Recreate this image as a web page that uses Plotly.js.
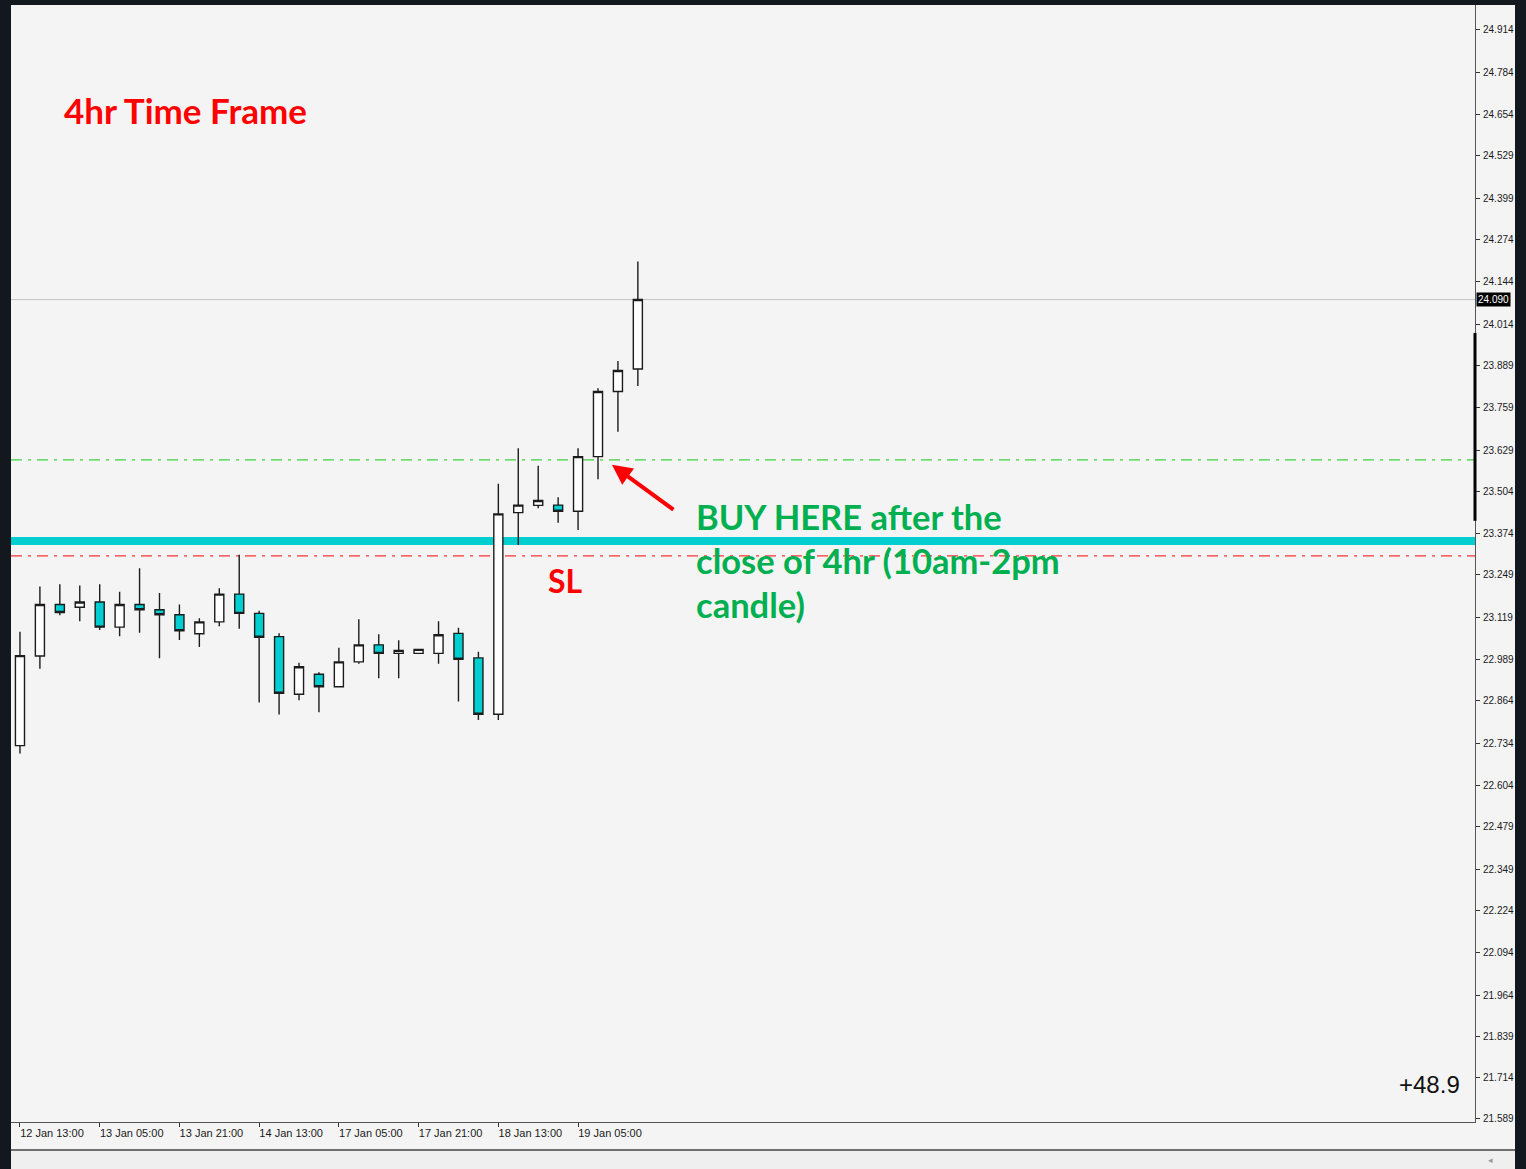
<!DOCTYPE html>
<html>
<head>
<meta charset="utf-8">
<script src="https://cdn.plot.ly/plotly-3.0.1.min.js"></script>
<style>
  html, body { margin: 0; padding: 0; background: #13171e; width: 1526px; height: 1169px; overflow: hidden; }
  #chart { position: absolute; left: 11px; top: 5px; width: 1504px; height: 1164px; overflow: hidden; }
</style>
</head>
<body>
<div id="chart"></div>
<script>
// ---- data (4h candles) ----
const times = [
  "12 Jan 13:00","12 Jan 17:00","12 Jan 21:00","13 Jan 01:00","13 Jan 05:00","13 Jan 09:00",
  "13 Jan 13:00","13 Jan 17:00","13 Jan 21:00","14 Jan 01:00","14 Jan 05:00","14 Jan 09:00",
  "14 Jan 13:00","14 Jan 17:00","14 Jan 21:00","17 Jan 01:00","17 Jan 05:00","17 Jan 09:00",
  "17 Jan 13:00","17 Jan 17:00","17 Jan 21:00","18 Jan 01:00","18 Jan 05:00","18 Jan 09:00",
  "18 Jan 13:00","18 Jan 17:00","18 Jan 21:00","19 Jan 01:00","19 Jan 05:00","19 Jan 09:00",
  "19 Jan 13:00","19 Jan 17:00"
];
const openP  = [22.727,23.001,23.158,23.150,23.166,23.089,23.158,23.142,23.127,23.069,23.105,23.190,
                23.131,23.060,22.884,22.945,22.907,22.983,23.035,23.009,23.009,23.009,23.070,22.995,
                22.823,23.439,23.461,23.462,23.443,23.610,23.809,23.878];
const highP  = [23.075,23.213,23.220,23.216,23.220,23.197,23.269,23.193,23.158,23.116,23.208,23.310,
                23.139,23.070,22.980,22.951,23.026,23.113,23.067,23.049,23.021,23.107,23.087,23.014,
                23.527,23.636,23.582,23.486,23.636,23.819,23.902,24.206];
const lowP   = [22.703,22.962,23.125,23.107,23.080,23.061,23.072,22.994,23.050,23.028,23.092,23.084,
                22.859,22.822,22.866,22.829,22.905,22.977,22.933,22.933,23.009,22.977,22.862,22.805,
                22.805,23.340,23.452,23.408,23.386,23.541,23.686,23.826];
const closeP = [23.002,23.158,23.134,23.166,23.089,23.158,23.142,23.127,23.078,23.105,23.190,23.131,
                23.058,22.887,22.968,22.907,22.983,23.035,23.009,23.018,23.021,23.066,22.991,22.823,
                23.435,23.462,23.476,23.443,23.610,23.809,23.873,24.090];

const xTickVals = ["12 Jan 13:00","13 Jan 05:00","13 Jan 21:00","14 Jan 13:00",
                   "17 Jan 05:00","17 Jan 21:00","18 Jan 13:00","19 Jan 05:00"];
const yTickVals = [24.914,24.784,24.654,24.529,24.399,24.274,24.144,24.014,23.889,23.759,23.629,
                   23.504,23.374,23.249,23.119,22.989,22.864,22.734,22.604,22.479,22.349,22.224,
                   22.094,21.964,21.839,21.714,21.589];
const yTickText = yTickVals.map(v => v.toFixed(3));

const bidPrice = 24.090;      // current price line
const entryLevel = 23.600;    // green dash-dot
const supportLevel = 23.352;  // cyan thick line
const stopLevel = 23.307;     // red dash-dot (SL)
const arrowTip = {x: 29.70, y: 23.585};

const trace = {
  type: 'candlestick',
  x: times, open: openP, high: highP, low: lowP, close: closeP,
  increasing: {line: {color: '#1c1c1c', width: 1.4}, fillcolor: '#ffffff'},
  decreasing: {line: {color: '#1c1c1c', width: 1.4}, fillcolor: '#00ced1'},
  whiskerwidth: 0,
  hoverinfo: 'skip',
  showlegend: false
};

const hline = (y, color, width, dash) => ({
  type: 'line', xref: 'paper', x0: 0, x1: 1, yref: 'y', y0: y, y1: y,
  line: {color: color, width: width, dash: dash || 'solid'}, layer: 'below'
});

const greenFont = {family: 'Lato, Open Sans, sans-serif', size: 34.5, color: '#00b050'};
const greenX = (694 - 11) / 1464;

const layout = {
  width: 1504, height: 1164,
  margin: {l: 0, r: 40, t: 0, b: 47, pad: 0},
  paper_bgcolor: '#f4f4f4',
  plot_bgcolor: '#f4f4f4',
  boxgap: 0.35,
  showlegend: false,
  xaxis: {
    type: 'category',
    range: [-0.45, 73.0],
    rangeslider: {visible: false},
    showgrid: false, zeroline: false,
    showline: true, linecolor: '#555', linewidth: 1,
    ticks: 'outside', ticklen: 4, tickcolor: '#333', tickwidth: 1,
    tickmode: 'array', tickvals: xTickVals, ticktext: xTickVals,
    ticklabelshift: 32, ticklabelstandoff: -3,
    tickangle: 0,
    tickfont: {family: 'Liberation Sans, Arial, sans-serif', size: 11, color: '#1a1a1a'},
    fixedrange: true
  },
  yaxis: {
    side: 'right',
    range: [21.577, 24.990],
    showgrid: false, zeroline: false,
    showline: true, linecolor: '#555', linewidth: 1,
    ticks: 'outside', ticklen: 4, tickcolor: '#333', tickwidth: 1,
    tickmode: 'array', tickvals: yTickVals, ticktext: yTickText,
    ticklabelstandoff: 1,
    tickfont: {family: 'Liberation Sans, Arial, sans-serif', size: 10, color: '#1a1a1a'},
    fixedrange: true
  },
  shapes: [
    hline(bidPrice, '#c4c4c4', 1),
    hline(entryLevel, '#3cd23c', 1.2, '11px,6px,3px,6px'),
    hline(stopLevel, '#ff3333', 1.2, '11px,6px,3px,6px'),
    hline(supportLevel, '#00ced1', 8),
    // MT4 scroll bar marker on price axis
    {type: 'line', xref: 'paper', x0: 1, x1: 1, yref: 'y', y0: 23.988, y1: 23.414,
     line: {color: '#000', width: 3}, layer: 'above'},
    // bottom strip
    {type: 'rect', xref: 'paper', x0: 0, x1: 1.03, yref: 'paper', y0: -0.0425, y1: -0.0251,
     fillcolor: '#efefef', line: {width: 0}, layer: 'below'},
    {type: 'line', xref: 'paper', x0: 0, x1: 1.03, yref: 'paper', y0: -0.0251, y1: -0.0251,
     line: {color: '#444', width: 1.5}, layer: 'above'}
  ],
  annotations: [
    {xref: 'paper', yref: 'paper', x: (62 - 11) / 1464, y: (1122 - 110) / 1117, xanchor: 'left', yanchor: 'middle',
     text: '<b>4hr Time Frame</b>', showarrow: false,
     font: {family: 'Lato, Open Sans, sans-serif', size: 35, color: '#ff0000'}},
    {xref: 'paper', yref: 'paper', x: greenX, y: (1122 - 516) / 1117, xanchor: 'left', yanchor: 'middle',
     text: '<b>BUY HERE after the</b>', showarrow: false, font: greenFont},
    {xref: 'paper', yref: 'paper', x: greenX, y: (1122 - 560) / 1117, xanchor: 'left', yanchor: 'middle',
     text: '<b>close of 4hr (10am-2pm</b>', showarrow: false, font: greenFont},
    {xref: 'paper', yref: 'paper', x: greenX, y: (1122 - 604) / 1117, xanchor: 'left', yanchor: 'middle',
     text: '<b>candle)</b>', showarrow: false, font: greenFont},
    {xref: 'paper', yref: 'paper', x: (546 - 11) / 1464, y: (1122 - 581) / 1117, xanchor: 'left', yanchor: 'middle',
     text: '<b>SL</b>', showarrow: false,
     font: {family: 'Lato, Open Sans, sans-serif', size: 32, color: '#ff0000'}},
    {xref: 'x', yref: 'y', x: arrowTip.x, y: arrowTip.y, text: '', showarrow: true,
     ax: 63, ay: 46, arrowhead: 2, arrowsize: 1, arrowwidth: 4, arrowcolor: '#ff0000', standoff: 0},
    {xref: 'paper', yref: 'paper', x: (1462 - 11) / 1464, y: (1122 - 1084) / 1117, xanchor: 'right', yanchor: 'middle',
     text: '+48.9', showarrow: false,
     font: {family: 'Liberation Sans, Arial, sans-serif', size: 24, color: '#111'}},
    {xref: 'paper', yref: 'y', x: 1, y: bidPrice, xanchor: 'left', yanchor: 'middle', xshift: 1,
     text: bidPrice.toFixed(3), showarrow: false, bgcolor: '#000', borderpad: 1,
     font: {family: 'Liberation Sans, Arial, sans-serif', size: 10, color: '#fff'}},
    {xref: 'paper', yref: 'paper', x: (1490 - 11) / 1464, y: (1122 - 1160) / 1117, xanchor: 'center', yanchor: 'middle',
     text: '◂', showarrow: false, font: {family: 'DejaVu Sans', size: 9, color: '#999'}}
  ]
};

Plotly.newPlot('chart', [trace], layout, {staticPlot: true, displayModeBar: false});
</script>
</body>
</html>
